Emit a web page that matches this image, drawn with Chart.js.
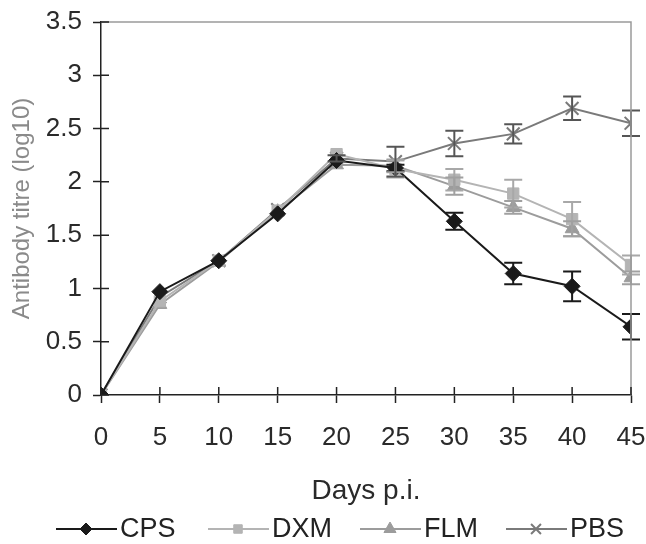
<!DOCTYPE html>
<html>
<head>
<meta charset="utf-8">
<script src="https://cdn.jsdelivr.net/npm/chart.js@4.4.0/dist/chart.umd.min.js"></script>
<style>
  html, body { margin: 0; padding: 0; background: #fff; }
  #wrap { width: 646px; height: 544px; }
</style>
</head>
<body>
<div id="wrap"><canvas id="chart" width="646" height="544"></canvas></div>
<script>
// Datos
const days = [0, 5, 10, 15, 20, 25, 30, 35, 40, 45];
const yTicks = [0, 0.5, 1, 1.5, 2, 2.5, 3, 3.5];
const seriesNames = ['CPS', 'DXM', 'FLM', 'PBS'];

const cps = [0, 0.97, 1.26, 1.70, 2.20, 2.13, 1.63, 1.14, 1.02, 0.64];
const dxm = [0, 0.88, 1.26, 1.73, 2.26, 2.12, 2.02, 1.89, 1.65, 1.22];
const flm = [0, 0.85, 1.25, 1.72, 2.16, 2.15, 1.96, 1.76, 1.56, 1.10];
const pbs = [0, 0.92, 1.26, 1.74, 2.22, 2.19, 2.36, 2.45, 2.69, 2.55];

const cpsErr = [0, 0, 0, 0, 0, 0.03, 0.08, 0.10, 0.14, 0.12];
const dxmErr = [0, 0, 0, 0, 0, 0.08, 0.10, 0.13, 0.16, 0.09];
const flmErr = [0, 0, 0, 0, 0, 0.06, 0.08, 0.06, 0.07, 0.06];
const pbsErr = [0, 0, 0, 0, 0.03, 0.14, 0.12, 0.09, 0.11, 0.12];

const FONT = '"Liberation Sans", Arial, sans-serif';

function pts(vals){ return days.map((d, i) => ({ x: d, y: vals[i] })); }

const styles = [
  { color: '#1a1a1a', point: 'rectRot', radius: 8, legendR: 6, err: '#1a1a1a' },
  { color: '#b4b4b4', point: 'rect', radius: 8, legendR: 6, err: '#a8a8a8' },
  { color: '#9c9c9c', point: 'triangle', radius: 8, legendR: 7, err: '#a0a0a0' },
  { color: '#7a7a7a', point: 'crossRot', radius: 9, legendR: 7, err: '#555555' }
];
const values = [cps, dxm, flm, pbs];
const errors = [cpsErr, dxmErr, flmErr, pbsErr];

const datasets = seriesNames.map((name, i) => ({
  label: name,
  data: pts(values[i]),
  errs: errors[i],
  borderColor: styles[i].color,
  backgroundColor: styles[i].color,
  pointBackgroundColor: styles[i].color,
  pointBorderColor: styles[i].color,
  pointStyle: styles[i].point,
  pointRadius: styles[i].radius,
  pointBorderWidth: i === 3 ? 2 : 1,
  borderWidth: 2,
  tension: 0,
  errColor: styles[i].err,
  legendR: styles[i].legendR
}));

// Barras de error, marco gris, marcas cruzadas y leyenda
const extras = {
  id: 'extras',
  afterDatasetsDraw(chart){
    const ctx = chart.ctx;
    const xs = chart.scales.x, ys = chart.scales.y;
    ctx.save();
    chart.data.datasets.forEach(ds => {
      ctx.strokeStyle = ds.errColor;
      ctx.lineWidth = 2;
      ds.data.forEach((p, i) => {
        const e = ds.errs[i];
        if(!e) return;
        const px = xs.getPixelForValue(p.x);
        const top = ys.getPixelForValue(p.y + e);
        const bot = ys.getPixelForValue(p.y - e);
        ctx.beginPath();
        ctx.moveTo(px, top); ctx.lineTo(px, bot);
        ctx.moveTo(px - 9, top); ctx.lineTo(px + 9, top);
        ctx.moveTo(px - 9, bot); ctx.lineTo(px + 9, bot);
        ctx.stroke();
      });
    });
    ctx.restore();
  },
  afterDraw(chart){
    const ctx = chart.ctx;
    const a = chart.chartArea;
    const xs = chart.scales.x, ys = chart.scales.y;
    ctx.save();
    // marco superior y derecho
    ctx.strokeStyle = '#9a9a9a';
    ctx.lineWidth = 1.5;
    ctx.beginPath();
    ctx.moveTo(a.left, a.top); ctx.lineTo(a.right, a.top); ctx.lineTo(a.right, a.bottom);
    ctx.stroke();
    // parte interior de las marcas
    ctx.strokeStyle = '#222';
    ctx.lineWidth = 1.5;
    ctx.beginPath();
    xs.ticks.forEach((t, i) => {
      const px = xs.getPixelForTick(i);
      ctx.moveTo(px, a.bottom); ctx.lineTo(px, a.bottom - 8);
    });
    ys.ticks.forEach((t, i) => {
      const py = ys.getPixelForTick(i);
      ctx.moveTo(a.left, py); ctx.lineTo(a.left + 8, py);
    });
    ctx.stroke();
    // leyenda
    const legendY = 529;
    const legendX = [56, 208, 360, 506];
    ctx.font = '27px ' + FONT;
    ctx.textBaseline = 'middle';
    ctx.textAlign = 'left';
    chart.data.datasets.forEach((ds, i) => {
      const x0 = legendX[i];
      ctx.strokeStyle = ds.borderColor;
      ctx.lineWidth = 2;
      ctx.beginPath();
      ctx.moveTo(x0, legendY); ctx.lineTo(x0 + 61, legendY);
      ctx.stroke();
      ctx.fillStyle = ds.pointBackgroundColor;
      ctx.strokeStyle = ds.pointBorderColor;
      ctx.lineWidth = ds.pointBorderWidth;
      Chart.helpers.drawPoint(ctx, { pointStyle: ds.pointStyle, radius: ds.legendR, rotation: 0, borderWidth: ds.pointBorderWidth }, x0 + 30, legendY);
      ctx.fillStyle = '#222';
      ctx.fillText(ds.label, x0 + 64, legendY + 1);
    });
    ctx.restore();
  }
};

new Chart(document.getElementById('chart'), {
  type: 'line',
  data: { datasets },
  options: {
    responsive: false,
    animation: false,
    layout: { padding: { top: 22, right: 15, bottom: 0, left: 0 } },
    plugins: { legend: { display: false }, tooltip: { enabled: false } },
    scales: {
      x: {
        type: 'linear',
        min: 0, max: 45,
        afterBuildTicks: s => { s.ticks = days.map(v => ({ value: v })); },
        afterFit: s => { s.height = 149; s.paddingLeft = 0; s.paddingRight = 0; },
        grid: { drawOnChartArea: false, color: '#222', tickLength: 8, tickWidth: 1.5 },
        border: { color: '#222', width: 1.5 },
        ticks: { color: '#2a2a2a', font: { family: FONT, size: 26 }, padding: 19, maxRotation: 0, autoSkip: false },
        title: { display: true, text: 'Days p.i.', color: '#2a2a2a', font: { family: FONT, size: 28 }, padding: { top: 0, bottom: 36 } }
      },
      y: {
        min: 0, max: 3.5,
        afterBuildTicks: s => { s.ticks = yTicks.map(v => ({ value: v })); },
        afterFit: s => { s.width = 101; s.paddingTop = 0; s.paddingBottom = 0; },
        grid: { drawOnChartArea: false, color: '#222', tickLength: 8, tickWidth: 1.5 },
        border: { color: '#222', width: 1.5 },
        ticks: { color: '#2a2a2a', font: { family: FONT, size: 26 }, padding: 11, callback: v => String(v) },
        title: { display: true, text: 'Antibody titre (log10)', color: '#8a8a8a', font: { family: FONT, size: 24 }, padding: { top: 8, bottom: 0 } }
      }
    }
  },
  plugins: [extras]
});
</script>
</body>
</html>
